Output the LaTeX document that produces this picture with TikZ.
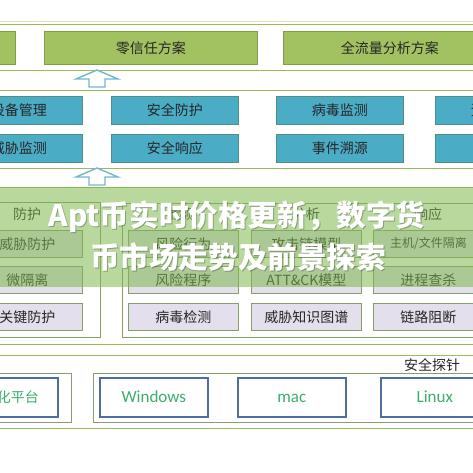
\documentclass[tikz,border=0pt]{standalone}
\usepackage{fontspec}
\setmainfont{Carlito}
\newfontfamily\cjk{Noto Sans CJK SC}
\usetikzlibrary{positioning}
\definecolor{secBand}{HTML}{9BBB59}
\definecolor{secBandLt}{HTML}{D7E4BD}
\definecolor{secPlan}{HTML}{A2C161}
\definecolor{secPlanLn}{HTML}{7F9D45}
\definecolor{secFunc}{HTML}{4BACC6}
\definecolor{secFuncLn}{HTML}{4E8F86}
\definecolor{secItem}{HTML}{E4DFEC}
\definecolor{secItemLn}{HTML}{86A06C}
\definecolor{secProbe}{HTML}{4F6E9E}
\definecolor{secProbeTx}{HTML}{3AAE6E}
\definecolor{secArrow}{HTML}{6FB8D0}
\definecolor{secText}{HTML}{262626}
\definecolor{secVeil}{HTML}{7DB84E}
\tikzset{
  plan/.style={
    draw=secPlanLn, line width=0.8pt, fill=secPlan, anchor=north west,
    minimum width=213pt, minimum height=33pt, inner sep=0pt,
    font=\cjk\fontsize{14}{16}\selectfont, text=secText},
  func/.style={
    draw=secFuncLn, line width=0.8pt, fill=secFunc, anchor=north west,
    minimum width=127pt, minimum height=28pt, inner sep=0pt,
    font=\cjk\fontsize{14}{16}\selectfont, text=secText},
  item/.style={
    draw=secItemLn, line width=0.8pt, fill=secItem, anchor=north west,
    minimum width=110pt, minimum height=27pt, inner sep=0pt,
    font=\cjk\fontsize{#1}{16}\selectfont, text=secText},
  item/.default=14,
  probe/.style={
    draw=secProbe, line width=1.6pt, fill=white, anchor=north west,
    minimum width=108pt, minimum height=39pt, inner sep=0pt,
    text height=11pt, text depth=0pt,
    font=\fontsize{17}{20}\selectfont, text=secProbeTx},
  band/.style={draw=secBand, line width=0.8pt},
  panel/.style={draw=secItemLn, line width=0.6pt},
  head/.style={font=\cjk\fontsize{14}{16}\selectfont, text=secText, inner sep=1pt},
  uparrow/.style={draw=secArrow, line width=1.4pt, fill=white, line join=miter},
  bannertxt/.style={font=\cjk\bfseries\fontsize{29.6}{32}\selectfont, text=white, inner sep=0pt},
}

\begin{document}
\begin{tikzpicture}[x=1pt,y=-1pt]
\useasboundingbox (0,0) rectangle (473,473);
\clip (0,0) rectangle (473,473);

% layers
\draw[secBandLt, line width=0.8pt] (-5,21) -- (478,21);
\draw[band] (-5,24) rectangle (478,70);
\draw[band] (-5,90) rectangle (478,168);
\draw[band] (-5,187) rectangle (478,344);
\draw[band] (-5,355) rectangle (478,428);

% solutions
\foreach \x/\txt [count=\i] in {-198/{}, 44/零信任方案, 283/全流量分析方案}
  \node[plan] (P\i) at (\x,31) {\txt};

% hollow up arrows between layers
\foreach \t in {70,168}
  \draw[uparrow] (97,\t) -- (118,\t+9) -- (105,\t+9) -- (105,\t+17)
    -- (89,\t+17) -- (89,\t+9) -- (76,\t+9) -- cycle;

% functions
\foreach \x/\ta/\tb [count=\i] in {%
  -45/设备管理/威胁监测,
  111/安全防护/安全响应,
  276/病毒监测/事件溯源,
  435/资产发现/日志审计%
} {
  \node[func] (Fa\i) at (\x,96) {\ta};
  \node[func] (Fb\i) at (\x,134) {\tb};
}

% protection / detection / analysis / response
\draw[panel] (-46,202) rectangle (100,337);
\draw[panel] (122,203) rectangle (490,337);
\foreach \x/\hd/\ta/\tb/\tc/\sz [count=\i] in {%
  -28/防护/威胁防护/微隔离/关键防护/14,
  128/检测/风险行为/风险程序/病毒检测/14,
  251/分析/攻击链模型/ATT\&CK模型/威胁知识图谱/14,
  373/响应/{主机/文件隔离}/进程查杀/链路阻断/12%
} {
  \node[head] (H\i) at (\x+55,214) {\hd};
  \node[item=\sz] (Ia\i) at (\x,230) {\ta};
  \node[item] (Ib\i) at (\x,266) {\tb};
  \node[item] (Ic\i) at (\x,303) {\tc};
}

% probes
\draw[panel] (-60,373) rectangle (71,422);
\draw[panel] (93,373) rectangle (490,422);
\node[probe, font=\cjk\fontsize{14}{16}\selectfont] (R1) at (-51,377) {虚拟化平台};
\foreach \x/\txt [count=\i from 2] in {99/Windows, 237/mac, 380/Linux}
  \node[probe] (R\i) at (\x,377) {\txt};
\node[head, anchor=south] (RH) at (432,373) {安全探针};

% banner
\fill[secVeil, opacity=0.55] (-5,187) rectangle (478,287);
\foreach \dx/\col/\op in {1/black/0.25, 0/white/1} {
  \node[bannertxt, text=\col, text opacity=\op] (T1) at (237+\dx,217+\dx) {Apt币实时价格更新，数字货};
  \node[bannertxt, text=\col, text opacity=\op] (T2) at (238+\dx,257+\dx) {币市场走势及前景探索};
}

\end{tikzpicture}
\end{document}
